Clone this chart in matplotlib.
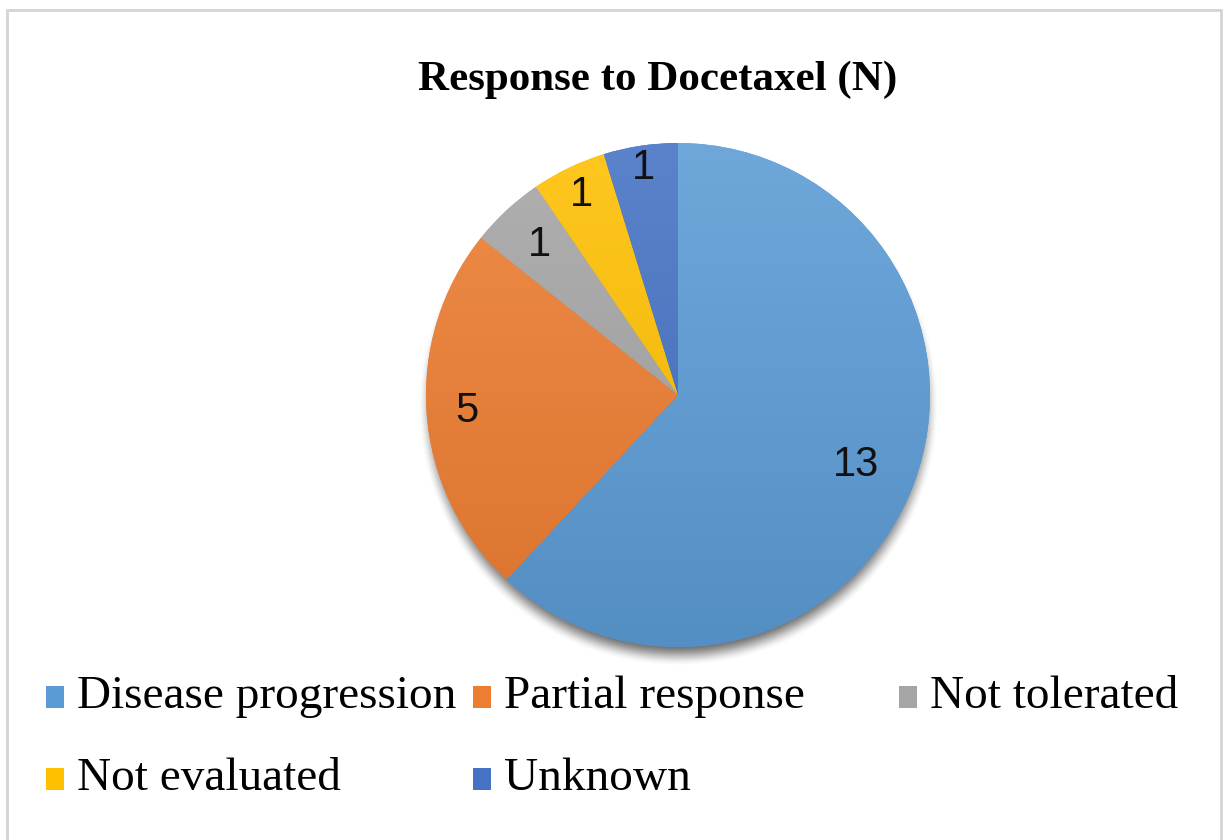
import numpy as np
import matplotlib.pyplot as plt
from matplotlib.patches import Rectangle
from matplotlib.colors import to_rgb

# donnees
categories = ["Disease progression", "Partial response", "Not tolerated", "Not evaluated", "Unknown"]
valeurs = [13, 5, 1, 1, 1]
couleurs = ["#5B9BD5", "#ED7D31", "#A5A5A5", "#FFC000", "#4472C4"]
titre = "Response to Docetaxel (N)"

W, H = 1225, 840
fig = plt.figure(figsize=(W / 100, H / 100), dpi=100)
fig.patch.set_facecolor("white")

# cadre gris clair autour du graphique
fig.patches.append(Rectangle((7 / W, -0.05), 1214 / W, 1.05 - 10 / H, transform=fig.transFigure,
                             fill=False, edgecolor="#D4D4D4", linewidth=2))

# axes du camembert (centre 678,395 px, rayon 252 px)
cx, cy, r = 678, 395, 252
ext = 1.2
half = r * ext
ax = fig.add_axes([(cx - half) / W, (H - cy - half) / H, 2 * half / W, 2 * half / H])

# ombre douce sous le camembert (image avec bord flou)
g = np.linspace(-ext, ext, 500)
X, Y = np.meshgrid(g, g)
d = np.hypot(X, Y + 0.045)
a = np.clip((1.035 - d) / 0.09, 0, 1)
a = a * a * (3 - 2 * a) * 0.65
ombre = np.zeros((500, 500, 4))
ombre[..., :3] = 0.1
ombre[..., 3] = a
ax.imshow(ombre, extent=(-ext, ext, -ext, ext), origin="lower", zorder=0, interpolation="bilinear")

wedges, _ = ax.pie(valeurs, colors=couleurs, startangle=90, counterclock=False, radius=1.0,
                   wedgeprops=dict(linewidth=0, edgecolor="none"))

# degrade vertical dans chaque part (plus clair en haut)
t = np.linspace(0, 1, 256)[:, None]
for w, c in zip(wedges, couleurs):
    base = np.array(to_rgb(c))
    haut = base + (1 - base) * 0.12
    bas = base * 0.92
    img = bas[None, None, :] * (1 - t[..., None]) + haut[None, None, :] * t[..., None]
    img = np.repeat(img, 2, axis=1)
    im = ax.imshow(img, extent=(-1, 1, -1, 1), origin="lower", zorder=2, interpolation="bilinear")
    im.set_clip_path(w)
    w.set_zorder(1)
ax.set_xlim(-ext, ext)
ax.set_ylim(-ext, ext)
ax.axis("off")

# etiquettes des valeurs
dist = [0.76, 0.84, 0.81, 0.88, 0.91]
for w, v, dd in zip(wedges, valeurs, dist):
    ang = np.deg2rad((w.theta1 + w.theta2) / 2)
    ax.text(dd * np.cos(ang), dd * np.sin(ang), str(v), ha="center", va="center",
            fontsize=30, family="Liberation Sans", color="#111111", zorder=5)

# titre
fig.text(658 / W, 1 - 80 / H, titre, ha="center", va="center", fontsize=31,
         family="Liberation Serif", fontweight="bold")

# legende (positions fixes comme l'original)
pos_leg = [(46, 697), (473, 697), (899, 697), (46, 779), (473, 779)]
for (px, py), lab, c in zip(pos_leg, categories, couleurs):
    fig.patches.append(Rectangle((px / W, (H - py - 11) / H), 18 / W, 22 / H,
                                 transform=fig.transFigure, facecolor=c, edgecolor="none"))
    fig.text((px + 31) / W, 1 - py / H, lab, ha="left", va="center", fontsize=34,
             family="Liberation Serif")

fig.savefig("out.png", dpi=100)
